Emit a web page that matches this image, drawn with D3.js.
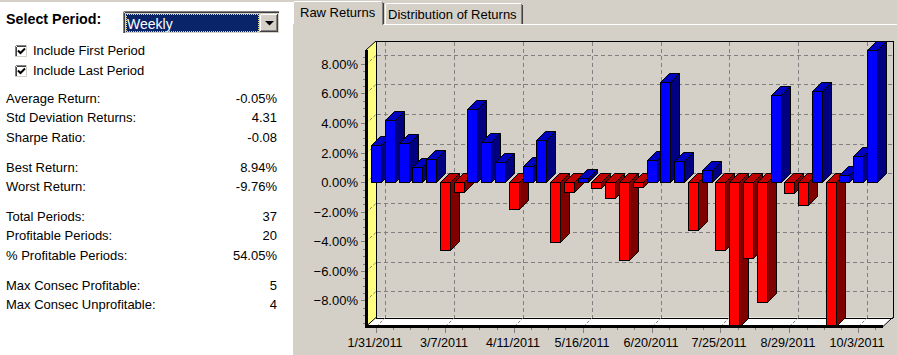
<!DOCTYPE html>
<html><head><meta charset="utf-8">
<style>html,body{margin:0;padding:0;background:#D4D0C8;overflow:hidden}svg{display:block}text{font-family:"Liberation Sans",Arial,sans-serif;fill:#000}</style>
<script src="https://cdn.jsdelivr.net/npm/d3@7"></script>
</head><body><svg id="c" width="897" height="355"></svg>
<script>
const dates=["1/31/2011","2/7/2011","2/14/2011","2/21/2011","2/28/2011","3/7/2011","3/14/2011","3/21/2011","3/28/2011","4/4/2011","4/11/2011","4/18/2011","4/25/2011","5/2/2011","5/9/2011","5/16/2011","5/23/2011","5/30/2011","6/6/2011","6/13/2011","6/20/2011","6/27/2011","7/5/2011","7/11/2011","7/18/2011","7/25/2011","8/1/2011","8/8/2011","8/15/2011","8/22/2011","8/29/2011","9/6/2011","9/12/2011","9/19/2011","9/26/2011","10/3/2011","10/10/2011"];
const returns=[2.51,4.23,2.64,1.02,1.56,-4.61,-0.68,4.95,2.71,1.36,-1.83,1.08,2.85,-4.07,-0.68,0.27,-0.41,-1.08,-5.29,-0.34,1.51,6.8,1.42,-3.25,0.81,-4.61,-9.76,-5.15,-8.07,5.92,-0.75,-1.56,6.17,-9.7,0.47,1.76,8.94];
const yTicks=[8,6,4,2,0,-2,-4,-6,-8];
const xLabels=["1/31/2011","3/7/2011","4/11/2011","5/16/2011","6/20/2011","7/25/2011","8/29/2011","10/3/2011"];
const statRows=[["Average Return:","-0.05%",103],["Std Deviation Returns:","4.31",122],["Sharpe Ratio:","-0.08",142],["Best Return:","8.94%",172],["Worst Return:","-9.76%",191],["Total Periods:","37",221],["Profitable Periods:","20",240],["% Profitable Periods:","54.05%",260],["Max Consec Profitable:","5",290],["Max Consec Unprofitable:","4",309]];
const checks=[["Include First Period",45],["Include Last Period",65]];

const svg=d3.select("#c");
const W=897,H=355;
const rect=(g,x,y,w,h,f,s,sw)=>g.append("rect").attr("x",x).attr("y",y).attr("width",w).attr("height",h).attr("fill",f).attr("stroke",s||"none").attr("stroke-width",sw||0).attr("shape-rendering","crispEdges");
const poly=(g,pts,f,s)=>g.append("polygon").attr("points",pts.map(p=>p.join(",")).join(" ")).attr("fill",f).attr("stroke",s||"none").attr("stroke-width",s?1:0);
const line=(g,a,b,c,d,s,sw,dash)=>{const l=g.append("line").attr("x1",a).attr("y1",b).attr("x2",c).attr("y2",d).attr("stroke",s).attr("stroke-width",sw||1);if(a===c||b===d)l.attr("shape-rendering","crispEdges");if(dash)l.attr("stroke-dasharray",dash);return l;};

/* ---------- left panel ---------- */
rect(svg,0,0,W,H,"#D4D0C8");
rect(svg,0,2,293,H-2,"#FFFFFF");
const L=svg.append("g");
L.append("text").attr("x",6).attr("y",24).attr("font-size",14.3).attr("font-weight","bold").text("Select Period:");
rect(L,123,11,157,23,"#D4D0C8");
line(L,123.5,11.5,279.5,11.5,"#808080");line(L,123.5,11.5,123.5,33.5,"#808080");
line(L,124.5,12.5,279.5,12.5,"#404040");line(L,124.5,12.5,124.5,32.5,"#404040");
line(L,123,33.5,280,33.5,"#FFFFFF");line(L,279.5,11,279.5,34,"#FFFFFF");
rect(L,126,14,133,18,"#0A246A");
rect(L,126.5,14.5,132,17,"none","#E8D878",1).attr("stroke-dasharray","1 1");
L.append("text").attr("x",127).attr("y",29).attr("font-size",14).style("fill","#FFFFFF").text("Weekly");
rect(L,260,14,18,18,"#D4D0C8");
line(L,260.5,14.5,277.5,14.5,"#FFFFFF");line(L,260.5,14.5,260.5,31.5,"#FFFFFF");
line(L,260,31.5,278,31.5,"#404040");line(L,277.5,14,277.5,32,"#404040");
line(L,261,30.5,277,30.5,"#808080");line(L,276.5,15,276.5,31,"#808080");
poly(L,[[265,21],[274,21],[269.5,25.5]],"#000");
checks.forEach(([t,y])=>{
  rect(L,15,y,12,12,"#FFFFFF");
  line(L,15.5,y+.5,26.5,y+.5,"#808080");line(L,15.5,y+.5,15.5,y+11.5,"#808080");
  line(L,16.5,y+1.5,25.5,y+1.5,"#404040");line(L,16.5,y+1.5,16.5,y+10.5,"#404040");
  line(L,15,y+11.5,27,y+11.5,"#D4D0C8");line(L,26.5,y,26.5,y+12,"#D4D0C8");
  L.append("path").attr("d",`M18 ${y+5.5}l2.5 2.5 4.5-4.5`).attr("fill","none").attr("stroke","#000").attr("stroke-width",2);
  L.append("text").attr("x",33).attr("y",y+10).attr("font-size",13).text(t);
});
statRows.forEach(([a,b,y])=>{
  L.append("text").attr("x",6).attr("y",y).attr("font-size",13).text(a);
  L.append("text").attr("x",277).attr("y",y).attr("font-size",13).attr("text-anchor","end").text(b);
});

/* ---------- tabs ---------- */
const T=svg.append("g");
line(T,384,24.5,W,24.5,"#FFFFFF");
line(T,294,1.5,381,1.5,"#FFFFFF");line(T,293.5,2,293.5,24,"#FFFFFF");
line(T,382.5,2,382.5,25,"#808080");line(T,383.5,3,383.5,24,"#404040");
T.append("text").attr("x",300).attr("y",17).attr("font-size",13).text("Raw Returns");
line(T,386,3.5,521,3.5,"#FFFFFF");line(T,385.5,4,385.5,24,"#FFFFFF");
line(T,521.5,4,521.5,24,"#808080");line(T,522.5,5,522.5,24,"#404040");
T.append("text").attr("x",388).attr("y",19).attr("font-size",13).text("Distribution of Returns");

/* ---------- chart ---------- */
const fx0=366,fx1=883,fyTop=50,fyBot=326.5,dx=10,dy=9;
const barW=10;
const x=d3.scalePoint().domain(dates).range([371,867]);
const y=d3.scaleLinear().domain([8.94,-9.76]).range([fyTop,fyBot]);
const rx=v=>Math.round(v)+.5, ry=v=>Math.round(v)+.5;
const G=svg.append("g");
const bx0=fx0+dx,bx1=fx1+dx-.5,byTop=fyTop-dy,byBot=fyBot-dy;

// walls
poly(G,[[fx0,fyTop],[bx0,byTop],[bx0,byBot],[fx0,fyBot]],"#FFFF80");
poly(G,[[fx0,fyBot],[bx0,byBot],[bx1,byBot],[fx1,fyBot]],"#FFFFFF");
line(G,fx0,fyTop,bx0,byTop,"#000");
line(G,rx(bx0),byTop,rx(bx0),byBot,"#000");
line(G,rx(bx0),ry(byTop),rx(bx1),ry(byTop),"#000");
line(G,rx(bx1),byTop,rx(bx1),byBot,"#000");
line(G,bx0,ry(byBot),bx1,ry(byBot),"#000");
line(G,bx1,byBot,fx1,fyBot,"#000");
line(G,fx0,fyBot,bx0,byBot,"#000");

// grid
const dash="4 3",gc="#808080";
yTicks.forEach(t=>{
  const v=ry(y(t));
  line(G,bx0+.5,v-dy,bx1-.5,v-dy,gc,1,dash);
  line(G,fx0,v,bx0,v-dy,gc,1,"3 2");
});
xLabels.forEach(t=>{
  const v=rx(x(t)+barW/2);
  line(G,v+dx-1,byTop+1,v+dx-1,byBot,gc,1,dash);
  line(G,v,fyBot,v+dx-1,byBot,gc,1,"3 2");
});

// axes
const A=svg.append("g");
yTicks.forEach((t,i)=>{
  const v=ry(y(t));
  line(A,361,v,366,v,gc);
  A.append("text").attr("x",358).attr("y",v+4.5).attr("font-size",13).attr("text-anchor","end").text(d3.format(".2f")(t)+"%");
  if(i<yTicks.length-1) [.25,.5,.75].forEach(f=>{const m=ry(y(t-2*f));line(A,363,m,366,m,gc);});
});
[.25,.5,.75].forEach(f=>{[yTicks[0]+2*f,yTicks[yTicks.length-1]-2*f].forEach(t=>{if(t<8.94&&t>-9.76){const m=ry(y(t));line(A,363,m,366,m,gc);}});});
const xStep=x(xLabels[1])-x(xLabels[0]);
xLabels.forEach(t=>{
  const v=rx(x(t)+barW/2);
  line(A,v,fyBot,v,fyBot+6,gc);
  A.append("text").attr("x",v-1.5).attr("y",347).attr("font-size",12.6).attr("text-anchor","middle").text(t);
  [.25,.5,.75].forEach(f=>{const m=rx(x(t)+barW/2+xStep*f);if(m<fx1)line(A,m,fyBot,m,fyBot+3,gc);});
});
// bars (drawn back to front in order)
const zero=y(0);
const bars=G.append("g");
returns.forEach((r,i)=>{
  const X=Math.round(x(dates[i]))+.5, w=barW, Y0=Math.round(Math.min(y(r),zero))+.5, Y1=Math.round(Math.max(y(r),zero))+.5;
  const pos=r>=0, g=bars.append("g").attr("stroke-linejoin","miter");
  poly(g,[[X+w,Y0],[X+w+dx-1,Y0-dy],[X+w+dx-1,Y1-dy],[X+w,Y1]],pos?"#000080":"#800000","#000");
  poly(g,[[X,Y0],[X+dx-1,Y0-dy],[X+w+dx-1,Y0-dy],[X+w,Y0]],pos?"#0000C0":"#C00000","#000");
  rect(g,X,Y0,w,Y1-Y0,pos?"#0000FF":"#FF0000","#000",1);
});
// thick axis lines on top
rect(A,365,50,2.5,278,"#000");
rect(A,365,325,518,2.5,"#000");
A.raise();
</script></body></html>
